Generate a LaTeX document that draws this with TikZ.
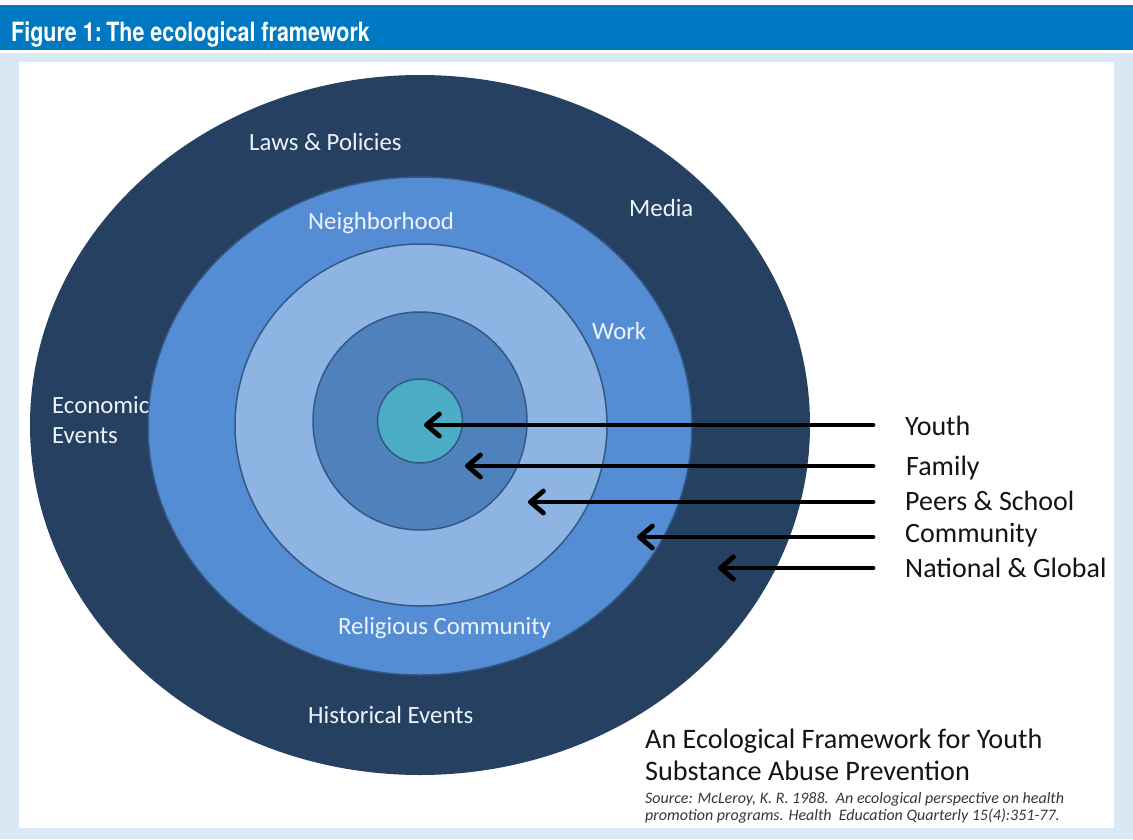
\documentclass[tikz,border=0pt]{standalone}
\usepackage{fontspec}
\setmainfont{Carlito}
\newfontfamily\headfont[FakeStretch=0.81]{TeX Gyre Heros}
\usetikzlibrary{arrows.meta,shapes.geometric}
\definecolor{hdrblue}{RGB}{0,121,194}
\definecolor{bgblue}{RGB}{218,232,246}
\definecolor{ringA}{RGB}{37,64,97}
\definecolor{ringB}{RGB}{84,141,212}
\definecolor{ringC}{RGB}{142,180,227}
\definecolor{ringD}{RGB}{79,129,189}
\definecolor{ringE}{RGB}{75,172,198}
\definecolor{ringline}{RGB}{52,88,132}
\definecolor{lbltext}{RGB}{238,243,250}
\definecolor{darktext}{RGB}{20,20,20}
\tikzset{
  ring/.style={ellipse, inner sep=0pt, draw=ringline, line width=1.5pt},
  inlabel/.style={anchor=base west, inner sep=0pt, text=lbltext, font=\fontsize{24.8}{28}\selectfont},
  sidelabel/.style={anchor=base west, inner sep=0pt, text=darktext, font=\fontsize{28}{32}\selectfont},
  titletext/.style={anchor=base west, inner sep=0pt, text=darktext, font=\fontsize{28.2}{32}\selectfont},
  sourcetext/.style={anchor=base west, inner sep=0pt, text=darktext!85, font=\fontsize{16}{18}\selectfont\itshape},
  pointer/.style={line width=4.8pt, black, line cap=round, -{Straight Barb[length=13pt,width=22pt,round]}}
}
\begin{document}
\begin{tikzpicture}[x=1pt,y=-1pt]
\useasboundingbox (0,0) rectangle (1133,839);
% backgrounds
\fill[white] (0,0) rectangle (1133,839);
\fill[bgblue] (0,53) rectangle (1133,839);
\fill[hdrblue] (0,5) rectangle (1133,50);
\fill[white] (19,62) rectangle (1114,828);
\node[anchor=base west, inner sep=0pt, text=white, font=\headfont\bfseries\fontsize{26.5}{30}\selectfont] (hdr) at (11,41) {Figure 1:\,The ecological framework};
% rings
\node[ring, draw=none, fill=ringA, minimum width=780pt, minimum height=700pt] (national) at (420,425) {};
\node[ring, fill=ringB, minimum width=544pt, minimum height=498pt] (community) at (420,426) {};
\node[ring, fill=ringC, minimum width=372pt, minimum height=362pt] (peers) at (421,425) {};
\node[ring, fill=ringD, minimum width=214pt, minimum height=218pt] (family) at (420,421) {};
\node[ring, fill=ringE, minimum width=85pt, minimum height=84pt] (youth) at (420,421) {};
% ring labels
\node[inlabel] (laws) at (249,150) {Laws \& Policies};
\node[inlabel] (media) at (629,216) {Media};
\node[inlabel] (neigh) at (308,229) {Neighborhood};
\node[inlabel] (work) at (592,339) {Work};
\node[inlabel] (econ1) at (52,413) {Economic};
\node[inlabel] (econ2) at (52,443) {Events};
\node[inlabel] (relig) at (338,634) {Religious Community};
\node[inlabel] (hist) at (308,723) {Historical Events};
% side labels
\node[sidelabel] (lYouth) at (905,435) {Youth};
\node[sidelabel] (lFamily) at (906,475) {Family};
\node[sidelabel] (lPeers) at (905,510) {Peers \& School};
\node[sidelabel] (lComm) at (905,542) {Community};
\node[sidelabel] (lNat) at (905,577) {National \& Global};
% arrows
\coordinate (sYouth) at (873,425);
\coordinate (tYouth) at (424,425);
\coordinate (sFamily) at (873,466);
\coordinate (tFamily) at (465,466);
\coordinate (sPeers) at (873,502);
\coordinate (tPeers) at (528,502);
\coordinate (sComm) at (873,537);
\coordinate (tComm) at (637,537);
\coordinate (sNat) at (873,568);
\coordinate (tNat) at (718,568);
\draw[pointer] (sYouth) -- (tYouth);
\draw[pointer] (sFamily) -- (tFamily);
\draw[pointer] (sPeers) -- (tPeers);
\draw[pointer] (sComm) -- (tComm);
\draw[pointer] (sNat) -- (tNat);
% title and source
\node[titletext] (title1) at (645,748) {An Ecological Framework for Youth};
\node[titletext] (title2) at (645,780) {Substance Abuse Prevention};
\node[sourcetext] (src1) at (645,803) {Source: McLeroy, K. R. 1988.\ \ An ecological perspective on health};
\node[sourcetext] (src2) at (645,820) {promotion programs. Health\ \ Education Quarterly 15(4):351-77.};
\end{tikzpicture}
\end{document}
